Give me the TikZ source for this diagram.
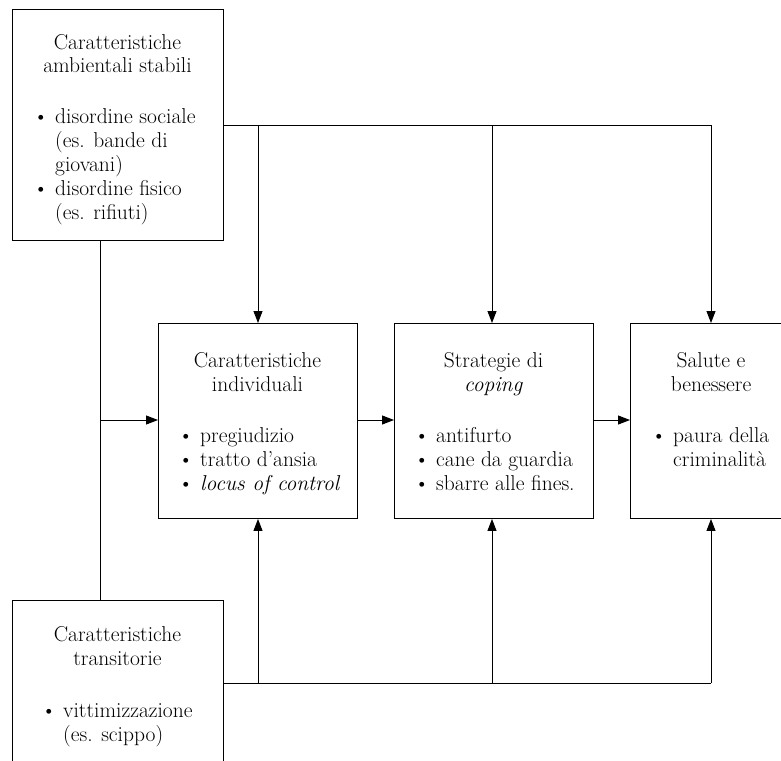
\documentclass[tikz,border=0pt]{standalone}
\usepackage{fontspec}
\usetikzlibrary{arrows.meta}
\newcommand\bul[1]{\par\noindent\hangindent=22pt\hangafter=1\makebox[22pt][l]{\textbullet}#1\par}
\newcommand\ttlbox[1]{\parbox[t]{220pt}{\centering #1}}
\newcommand\lstbox[1]{\parbox[t]{220pt}{#1}}
\tikzset{
  box/.style={draw, line width=0.95pt, inner sep=0pt, anchor=north west},
  ttl/.style={inner sep=0pt, anchor=base, font=\fontsize{21.5}{24}\selectfont},
  lst/.style={inner sep=0pt, anchor=base west, font=\fontsize{21.5}{24}\selectfont},
  conn/.style={line width=0.95pt},
  arr/.style={line width=0.95pt, -{Triangle[length=12pt,width=9pt]}}
}
\begin{document}
\begin{tikzpicture}[x=1pt,y=-1pt]
\useasboundingbox (0,0) rectangle (781,760);
% boxes
\node[box, minimum width=211pt, minimum height=231pt] (b1) at (12,9) {};
\node[box, minimum width=199pt, minimum height=195pt] (b2) at (158,323) {};
\node[box, minimum width=199pt, minimum height=195pt] (b3) at (394,323) {};
\node[box, minimum width=162pt, minimum height=195pt] (b4) at (630,323) {};
\node[box, minimum width=211pt, minimum height=163pt] (b5) at (12,600) {};
% texts
\node[ttl] (h1) at (117.5,49) {\ttlbox{Caratteristiche\\ambientali stabili}};
\node[lst] (l1) at (33,123) {\lstbox{\bul{disordine sociale\newline(es. bande di\newline giovani)}\bul{disordine fisico\newline(es. rifiuti)}}};
\node[ttl] (h2) at (257.5,367) {\ttlbox{Caratteristiche\\individuali}};
\node[lst] (l2) at (178,442) {\lstbox{\bul{pregiudizio}\bul{tratto d’ansia}\bul{\textit{locus of control}}}};
\node[ttl] (h3) at (493.5,367) {\ttlbox{Strategie di\\\textit{coping}}};
\node[lst] (l3) at (414,442) {\lstbox{\bul{antifurto}\bul{cane da guardia}\bul{sbarre alle fines.}}};
\node[ttl] (h4) at (711,367) {\ttlbox{Salute e\\benessere}};
\node[lst] (l4) at (651,442) {\lstbox{\bul{paura della\newline criminalità}}};
\node[ttl] (h5) at (117.5,641) {\ttlbox{Caratteristiche\\transitorie}};
\node[lst] (l5) at (41,717) {\lstbox{\bul{vittimizzazione\newline(es. scippo)}}};
% junction coordinates
\coordinate (s1) at (223,125);
\coordinate (ja) at (258,125);
\coordinate (jb) at (492,125);
\coordinate (jc) at (711,125);
\coordinate (s5) at (223,683);
\coordinate (ka) at (258,683);
\coordinate (kb) at (492,683);
\coordinate (kc) at (711,683);
\coordinate (v1) at (100,240);
\coordinate (v2) at (100,600);
\coordinate (vm) at (100,420);
% connectors
\draw[conn] (s1) -- (jc);
\draw[arr] (jc) -- (jc |- b4.north);
\draw[arr] (ja) -- (ja |- b2.north);
\draw[arr] (jb) -- (jb |- b3.north);
\draw[conn] (s5) -- (kc);
\draw[arr] (kc) -- (kc |- b4.south);
\draw[arr] (ka) -- (ka |- b2.south);
\draw[arr] (kb) -- (kb |- b3.south);
\draw[conn] (v1) -- (v2);
\draw[arr] (vm) -- (vm -| b2.west);
\draw[arr] (b2.east |- vm) -- (b3.west |- vm);
\draw[arr] (b3.east |- vm) -- (b4.west |- vm);
\end{tikzpicture}
\end{document}
